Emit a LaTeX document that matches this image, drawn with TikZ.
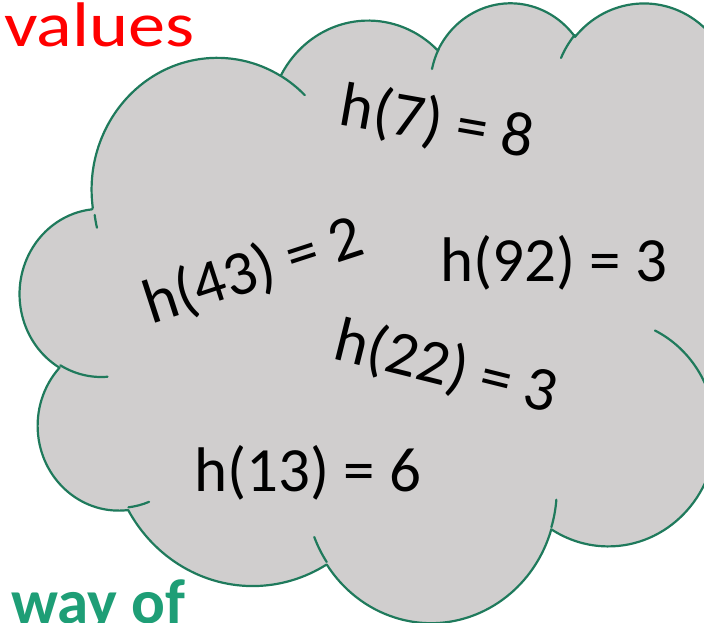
\documentclass[tikz,border=0pt]{standalone}
\usepackage{fontspec}
\setmainfont{Carlito}
\definecolor{cloudfill}{HTML}{D0CECE}
\definecolor{cloudline}{HTML}{1F7A5C}
\definecolor{waygreen}{HTML}{1E9E76}
\newcommand\mkarc[5]{%
  \pgfmathsetmacro\tmpS{atan2((#2)*sin(#4),(#3)*cos(#4))}%
  \pgfmathsetmacro\tmpE{atan2((#2)*sin((#4)+(#5)),(#3)*cos((#4)+(#5)))}%
  \pgfmathsetmacro\tmpD{\tmpE-\tmpS}%
  \pgfmathsetmacro\tmpD{ifthenelse((#5)>0,ifthenelse(\tmpD<0,\tmpD+360,\tmpD),ifthenelse(\tmpD>0,\tmpD-360,\tmpD))}%
  \pgfmathsetmacro\tmpF{\tmpS+\tmpD}%
  \expandafter\xdef\csname #1\endcsname{arc[x radius=#2, y radius=#3, start angle=\tmpS, end angle=\tmpF]}%
}
% outline arcs
\mkarc{arcA}{67.53}{91.90}{-190.4875}{123.7805}
\mkarc{arcB}{53.33}{72.67}{-144.1024}{89.9452}
\mkarc{arcC}{43.65}{59.45}{-145.8079}{99.7230}
\mkarc{arcD}{48.57}{65.95}{-130.9861}{117.2417}
\mkarc{arcE}{53.33}{72.73}{-78.7089}{109.0269}
\mkarc{arcF}{67.75}{92.20}{-46.2673}{130.2690}
\mkarc{arcG}{57.85}{78.67}{0.6250}{114.0333}
\mkarc{arcH}{67.52}{92.15}{22.4516}{115.1726}
\mkarc{arcI}{77.20}{105.43}{66.2426}{75.7110}
\mkarc{arcJ}{43.60}{59.18}{-274.9421}{146.7356}
\mkarc{arcK}{43.45}{59.45}{-246.8285}{152.5189}
% inner tails
\mkarc{tailA}{43.45}{59.45}{86.7420}{26.4295}
\mkarc{tailB}{43.60}{59.18}{73.6105}{11.4475}
\mkarc{tailC}{67.52}{92.15}{137.6242}{14.0811}
\mkarc{tailD}{67.52}{92.15}{6.4533}{15.9984}
\mkarc{tailE}{57.85}{78.67}{-70.2924}{70.9174}
\mkarc{tailF}{53.33}{72.73}{30.3180}{27.7515}
\mkarc{tailG}{48.57}{65.95}{-13.7443}{14.8502}
\mkarc{tailH}{48.57}{65.95}{-149.1815}{18.1891}
\mkarc{tailI}{43.65}{59.45}{-163.4943}{17.6864}
\mkarc{tailJ}{67.53}{91.90}{-66.7070}{12.3194}
\mkarc{tailK}{67.53}{91.90}{162.0352}{7.47}
\begin{document}
\begin{tikzpicture}[x=1pt,y=1pt,
  cloudbody/.style={fill=cloudfill, draw=cloudline, line width=2.2pt, line join=round},
  cloudedge/.style={draw=cloudline, line width=2.2pt, line cap=round},
  lbl/.style={font=\fontsize{63}{76}\selectfont, text=black, inner sep=0pt, anchor=base}]
\useasboundingbox (0,0) rectangle (704,623);
\clip (0,0) rectangle (704,623);
\begin{scope}[shift={(20.2pt,621.7pt)}, x=1.8599pt, y=-1.4343pt]
  \path[cloudbody] (39.00,143.70) \arcA \arcB \arcC \arcD \arcE \arcF \arcG \arcH \arcI \arcJ \arcK -- cycle;
  \draw[cloudedge] (46.93,261.77) \tailA
                   (69.28,348.99) \tailB
                   (164.78,390.90) \tailC
                   (288.27,347.51) \tailD
                   (341.29,229.54) \tailE
                   (417.98,153.54) \tailF
                   (383.24,54.26) \tailG
                   (290.78,39.52) \tailH
                   (221.41,47.20) \tailI
                   (140.00,51.92) \tailJ
                   (41.27,157.89) \tailK;
\end{scope}
\node[lbl, rotate=-10] (h7) at (434,481.5) {h(7) = 8};
\node[lbl, rotate=18] (h43) at (259,334) {h(43) = 2};
\node[lbl] (h92) at (553.5,341) {h(92) = 3};
\node[lbl, rotate=-14] (h22) at (441.6,237.5) {h(22) = 3};
\node[lbl] (h13) at (307.5,131) {h(13) = 6};
\node[font=\fontsize{63}{76}\selectfont, text=red, inner sep=0pt, anchor=base west, xscale=1.18] (values) at (4,576) {values};
\node[font=\fontsize{63}{76}\selectfont\bfseries, text=waygreen, inner sep=0pt, anchor=base west] (wayof) at (11,-1) {way of};
\end{tikzpicture}
\end{document}
